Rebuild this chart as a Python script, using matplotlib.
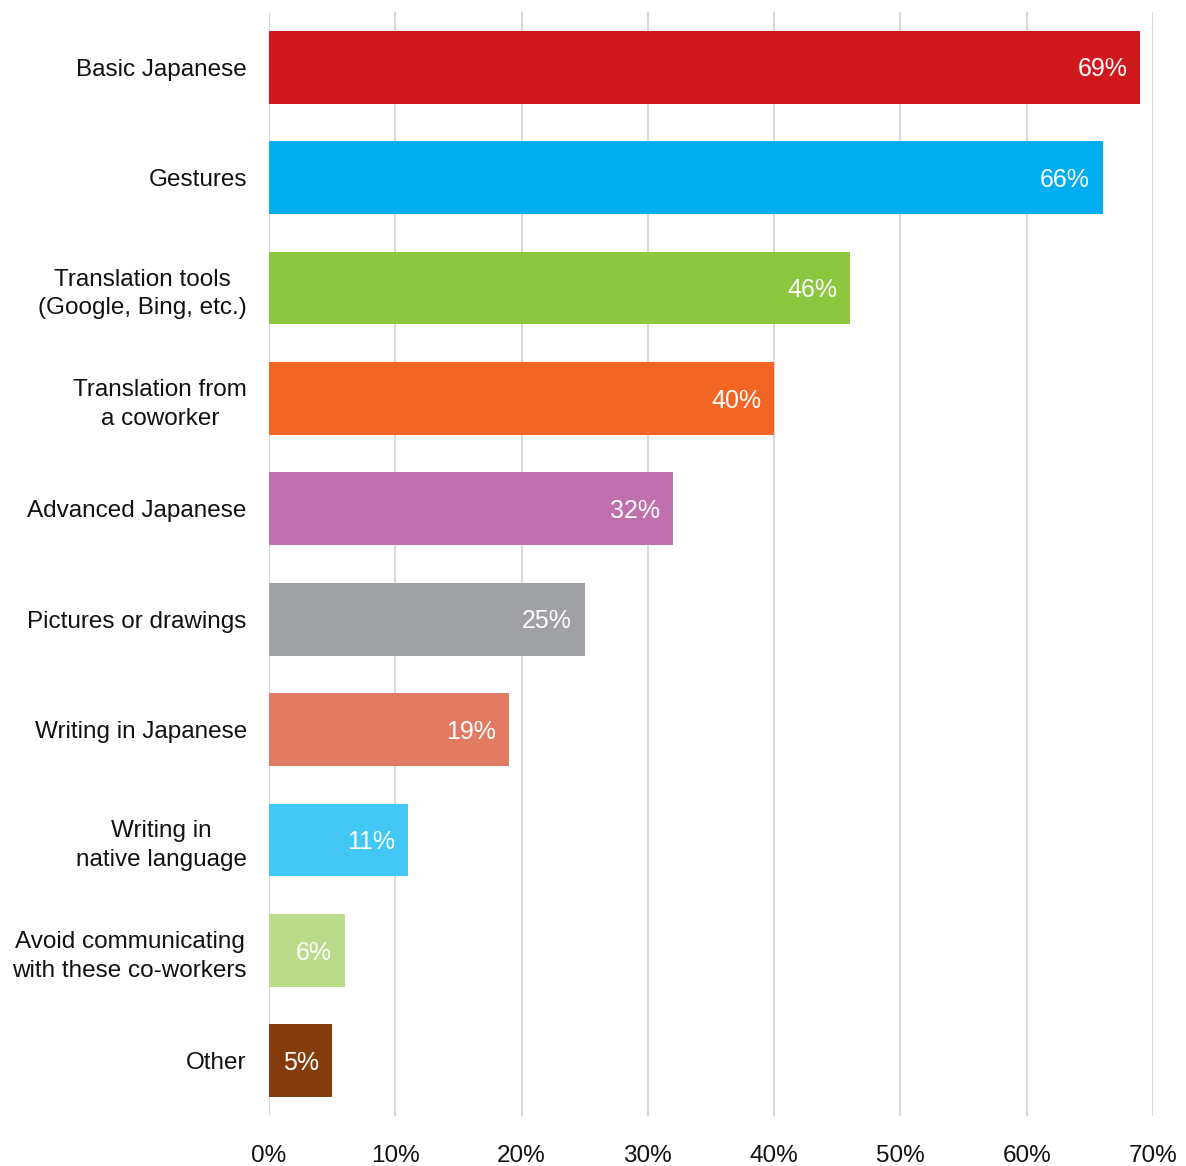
import matplotlib
matplotlib.use("Agg")
import matplotlib.pyplot as plt

plt.rcParams['font.family'] = ['Liberation Sans', 'DejaVu Sans']

categories = [
    "Basic Japanese",
    "Gestures",
    "Translation tools\n(Google, Bing, etc.)",
    "Translation from\na coworker",
    "Advanced Japanese",
    "Pictures or drawings",
    "Writing in Japanese",
    "Writing in\nnative language",
    "Avoid communicating\nwith these co-workers",
    "Other",
]
values = [69, 66, 46, 40, 32, 25, 19, 11, 6, 5]
colors = ["#d0191f", "#00adee", "#8dc63f", "#f26522", "#c070ad",
          "#a0a1a5", "#e07a62", "#43c8f5", "#badb8a", "#843c0c"]
xticks = [0, 10, 20, 30, 40, 50, 60, 70]
xtick_labels = [f"{t}%" for t in xticks]

fig = plt.figure(figsize=(11.86, 11.66), dpi=100)
ax = fig.add_axes([0.2268, 0.0429, 0.7454, 0.9468])

pos = list(range(len(categories)))
ax.barh(pos, values, height=0.66, color=colors, zorder=3)

for p, v in zip(pos, values):
    ax.text(v - 1.0, p + 0.02, f"{v}%", ha="right", va="center",
            color="white", fontsize=18, zorder=4)

ax.set_xlim(0, 70)
ax.set_ylim(len(categories) - 0.5, -0.5)
ax.set_xticks(xticks)
ax.set_xticklabels(xtick_labels, fontsize=17.5)
ax.set_yticks(pos)
ax.set_yticklabels(categories, fontsize=17.5, multialignment="center",
                   linespacing=1.4)
ax.tick_params(axis="both", length=0, colors="#111111")
ax.tick_params(axis="x", pad=21)
ax.tick_params(axis="y", pad=16)

ax.grid(axis="x", color="#d9d9d9", linewidth=1.5, zorder=0)
ax.grid(axis="y", visible=False)
for s in ax.spines.values():
    s.set_visible(False)

fig.savefig("out.png", dpi=100, facecolor="white")
